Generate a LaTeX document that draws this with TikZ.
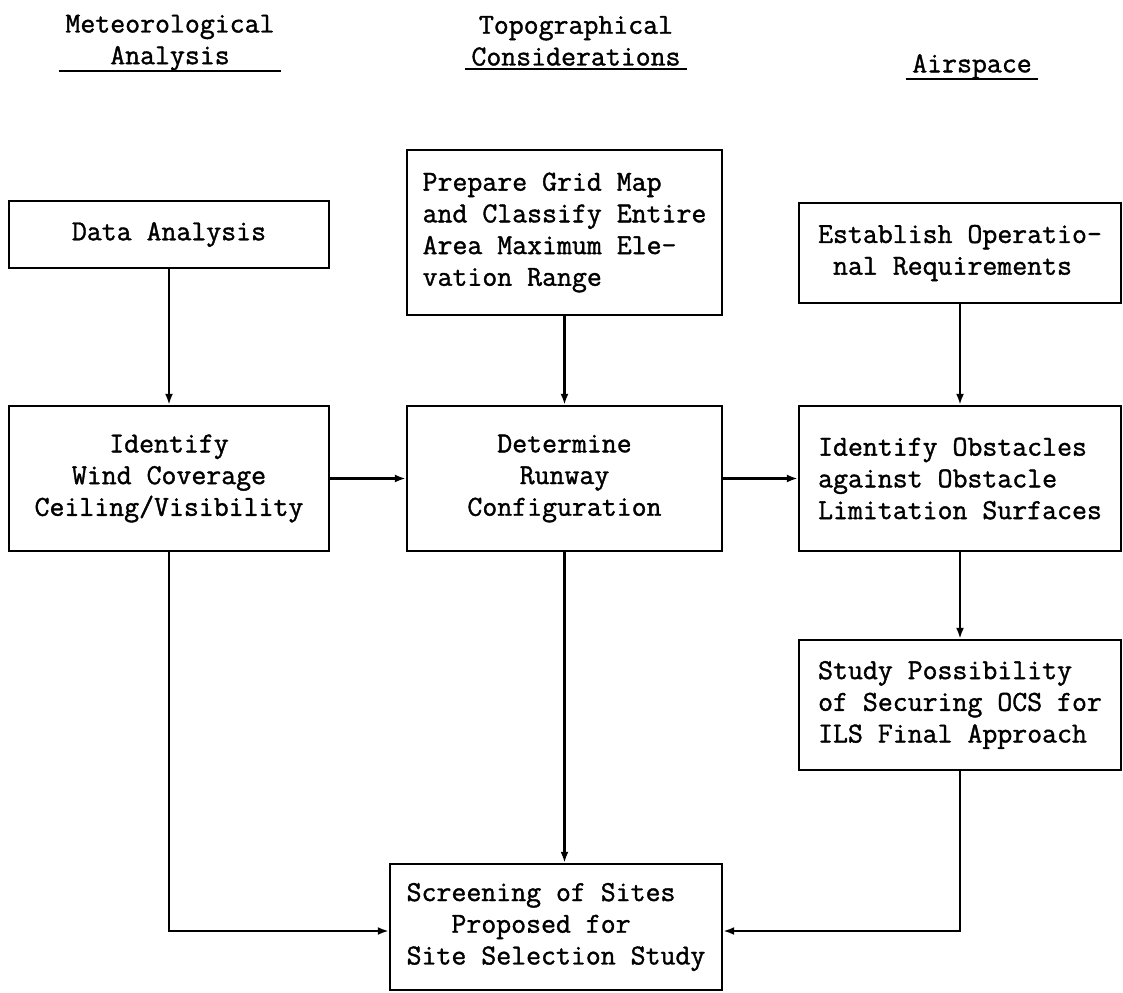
\documentclass[tikz,border=0pt]{standalone}
\usepackage{fontspec}
\setmonofont{Latin Modern Mono}[FakeBold=1.3]
\usetikzlibrary{arrows.meta,positioning}

\begin{document}
\begin{tikzpicture}[x=1pt, y=-1pt,
  every node/.style={font=\ttfamily\fontsize{29}{31.7}\selectfont},
  box/.style={draw=black, line width=2.4pt, inner sep=0pt},
  head/.style={inner xsep=6pt, inner ysep=0pt, align=center, anchor=south},
  flow/.style={draw, line width=2.2pt, -{Latex[length=11pt,width=8pt]}}]
  \useasboundingbox (0,0) rectangle (1123,992);

  % column titles
  \node[head](MetH) at (170,71){Meteorological\\Analysis};
  \node[head](TopH) at (576,66){Topographical\\Considerations};
  \node[head](AirH) at (972,79){Airspace};
  \draw[line width=2.4pt] (MetH.south west) -- (MetH.south east);
  \draw[line width=2.4pt] ([yshift=-3pt]TopH.south west) -- ([yshift=-3pt]TopH.south east);
  \draw[line width=2.4pt] (AirH.south west) -- (AirH.south east);

  % boxes
  \node[box, minimum width=320pt, minimum height=67pt](DA) at (169,234.5){Data Analysis};
  \node[box, minimum width=315pt, minimum height=165pt, align=left](PG) at (564.5,232.5){Prepare Grid Map\\and Classify Entire\\Area Maximum Ele-\\vation Range};
  \node[box, minimum width=322pt, minimum height=100pt, align=left](EO) at (960,253){Establish Operatio-\\\phantom{x}nal Requirements};
  \node[box, minimum width=320pt, minimum height=145pt, align=center](IW) at (169,478.5){Identify\\Wind Coverage\\Ceiling/Visibility};
  \node[box, minimum width=315pt, minimum height=145pt, align=center](DR) at (564.5,478.5){Determine\\Runway\\Configuration};
  \node[box, minimum width=322pt, minimum height=145pt, align=left](IO) at (960,478.5){Identify Obstacles\\against Obstacle\\Limitation Surfaces};
  \node[box, minimum width=322pt, minimum height=130pt, align=left](SP) at (960,705){Study Possibility\\of Securing OCS for\\ILS Final Approach};
  \node[box, minimum width=332pt, minimum height=126pt, align=left](SS) at (556,927){Screening of Sites\\\phantom{xxx}Proposed for\\Site Selection Study};

  \path[flow]
  (DA) edge[flow] (IW)
  (PG) edge[flow] (DR)
  (EO) edge[flow] (IO)
  (IW) edge[flow] (DR)
  (DR) edge[flow] (IO)
  (IO) edge[flow] (SP);

  \draw[flow] (IW.south) |- ([yshift=-4pt]SS.west);
  \draw[flow] (DR.south) -- (DR.south |- SS.north);
  \draw[flow] (SP.south) |- ([yshift=-4pt]SS.east);
\end{tikzpicture}
\end{document}
